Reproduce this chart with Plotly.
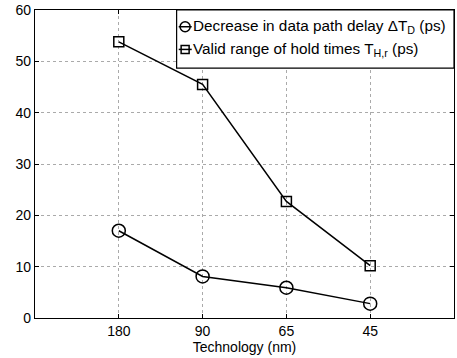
import plotly.graph_objects as go

categories = ["180", "90", "65", "45"]
delay_decrease = [17.0, 8.1, 5.9, 2.8]
hold_range = [53.8, 45.5, 22.7, 10.2]
yticks = [0, 10, 20, 30, 40, 50, 60]
series_names = ["Decrease in data path delay ΔT<sub>D</sub> (ps)",
                "Valid range of hold times T<sub>H,r</sub> (ps)"]

FONT = "Liberation Sans, Arial, Helvetica, sans-serif"
xpos = list(range(1, len(categories) + 1))

fig = go.Figure()
fig.add_trace(go.Scatter(
    x=xpos, y=delay_decrease, mode="lines+markers", name=series_names[0],
    line=dict(color="black", width=1.5),
    marker=dict(symbol="circle-open", size=13, color="black", line=dict(width=1.5)),
))
fig.add_trace(go.Scatter(
    x=xpos, y=hold_range, mode="lines+markers", name=series_names[1],
    line=dict(color="black", width=1.5),
    marker=dict(symbol="square-open", size=10, color="black", line=dict(width=1.5)),
))

axis_common = dict(
    showline=True, linecolor="black", linewidth=1.2, mirror="ticks",
    showgrid=True, gridcolor="#aaaaaa", griddash="dot", gridwidth=1,
    zeroline=False, ticks="inside", ticklen=4, tickcolor="black", tickwidth=1,
    tickfont=dict(family=FONT, size=14, color="black"),
    ticklabeloverflow="allow",
)

# Manual legend (box, sample lines, markers, labels) in paper coordinates
lx0, lx1, ly0, ly1 = 0.338, 1.0, 0.8115, 1.0
rows_y = [0.9457, 0.872]
sym_x0, sym_x1, sym_xc = 0.343, 0.374, 0.3583
shapes = [dict(type="rect", xref="paper", yref="paper", x0=lx0, x1=lx1, y0=ly0, y1=ly1,
               line=dict(color="black", width=1.2), fillcolor="white", layer="above")]
annotations = []
for i, ry in enumerate(rows_y):
    shapes.append(dict(type="line", xref="paper", yref="paper", x0=sym_x0, x1=sym_x1,
                       y0=ry, y1=ry, line=dict(color="black", width=1.5), layer="above"))
    if i == 0:
        shapes.append(dict(type="circle", xref="paper", yref="paper",
                           xsizemode="pixel", ysizemode="pixel", xanchor=sym_xc, yanchor=ry,
                           x0=-5, x1=5, y0=-5, y1=5,
                           line=dict(color="black", width=1.5), fillcolor="rgba(0,0,0,0)",
                           layer="above"))
    else:
        shapes.append(dict(type="rect", xref="paper", yref="paper",
                           xsizemode="pixel", ysizemode="pixel", xanchor=sym_xc, yanchor=ry,
                           x0=-4, x1=4, y0=-4, y1=4,
                           line=dict(color="black", width=1.5), fillcolor="rgba(0,0,0,0)",
                           layer="above"))
    annotations.append(dict(text=series_names[i], xref="paper", yref="paper",
                            x=sym_x1 - 0.002, y=ry, xanchor="left", yanchor="middle",
                            showarrow=False, font=dict(family=FONT, size=15.3, color="black")))

fig.update_layout(
    width=457, height=358,
    margin=dict(l=35, r=2, t=5, b=40),
    paper_bgcolor="white", plot_bgcolor="white",
    showlegend=False,
    shapes=shapes, annotations=annotations,
    xaxis=dict(
        range=[0, len(categories) + 1], tickmode="array",
        tickvals=xpos, ticktext=categories,
        title=dict(text="Technology (nm)", standoff=0,
                   font=dict(family=FONT, size=14, color="black")),
        **axis_common,
    ),
    yaxis=dict(
        range=[0, 60], tickmode="array", tickvals=yticks,
        **axis_common,
    ),
)

fig.write_html("out.html")
